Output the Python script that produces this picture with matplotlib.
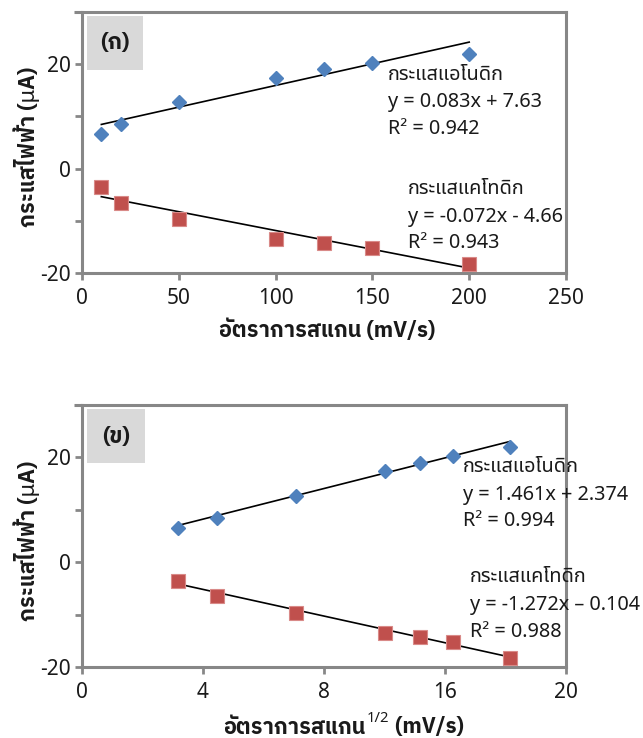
import os
import matplotlib
matplotlib.use("Agg")
import matplotlib.pyplot as plt
from matplotlib import font_manager as fm
import numpy as np

# ---------------- data ----------------
scan_rate = [10, 20, 50, 100, 125, 150, 200]              # mV/s
sqrt_scan_rate = [3.16, 4.47, 7.07, 10.0, 11.18, 12.25, 14.14]
anodic_current = [6.6, 8.5, 12.7, 17.4, 19.0, 20.2, 22.0]   # uA
cathodic_current = [-3.5, -6.5, -9.7, -13.5, -14.2, -15.2, -18.3]

fit_a_top = (0.083, 7.63)
fit_c_top = (-0.072, -4.66)
fit_a_bot = (1.461, 2.374)
fit_c_bot = (-1.272, -0.104)

eq_a_top = ["กระแสแอโนดิก", "y = 0.083x + 7.63", "R² = 0.942"]
eq_c_top = ["กระแสแคโทดิก", "y = -0.072x - 4.66", "R² = 0.943"]
eq_a_bot = ["กระแสแอโนดิก", "y = 1.461x + 2.374", "R² = 0.994"]
eq_c_bot = ["กระแสแคโทดิก", "y = -1.272x – 0.104", "R² = 0.988"]

top_xticks = [0, 50, 100, 150, 200, 250]
top_xlabels = ["0", "50", "100", "150", "200", "250"]
bot_xticks = [0, 4, 8, 12, 16]
bot_xlabels = ["0", "4", "8", "16", "20"]
yticks = [-20, -10, 0, 10, 20, 30]
ylabels = ["-20", "", "0", "", "20", ""]

ylabel_text = "กระแสไฟฟ้า (μA)"
xlabel_main = "อัตราการสแกน"
xlabel_unit = " (mV/s)"
panel_labels = ["(ก)", "(ข)"]

# ---------------- fonts ----------------
def font_ok(fam, weight):
    try:
        p = fm.findfont(fm.FontProperties(family=fam, weight=weight), fallback_to_default=False)
    except Exception:
        return False
    if weight == 'bold' and 'bold' not in os.path.basename(p).lower():
        return False
    try:
        return 0x0E01 in fm.get_font(p).get_charmap()
    except Exception:
        return False

REG = next((f for f in ["Noto Sans Thai", "Noto Sans Thai UI", "IBM Plex Sans Thai"]
            if font_ok(f, 'normal')), "Noto Sans Thai")
BOLD = next((f for f in ["Noto Sans Thai", "Noto Sans Thai UI", "IBM Plex Sans Thai", "Kanit", "Prompt"]
             if font_ok(f, 'bold')), REG)
FONT = [REG, "Noto Sans", "DejaVu Sans"]
BFONT = [BOLD, "Noto Sans", "DejaVu Sans"]
plt.rcParams['font.family'] = FONT

W, H = 643, 738
BLUE = "#4F81BD"
RED = "#C0504D"
GRAY = "#878787"
TXT = "#1a1a1a"

fig = plt.figure(figsize=(W / 100, H / 100), dpi=100)
fig.canvas.draw()
R = fig.canvas.get_renderer()

def fx(px):
    return px / W

def fy(py):
    return 1 - py / H

def fit_width(t, target, vertical=False):
    bb = t.get_window_extent(R)
    cur = bb.height if vertical else bb.width
    t.set_fontsize(t.get_fontsize() * target / cur)
    return t.get_fontsize()

def make_axes(top, bottom):
    ax = fig.add_axes([fx(82), fy(bottom), fx(566) - fx(82), fy(top) - fy(bottom)])
    for s in ax.spines.values():
        s.set_color(GRAY)
        s.set_linewidth(2.2)
    ax.tick_params(direction='out', length=5, width=2, color=GRAY,
                   labelsize=15, pad=3, labelcolor=TXT)
    ax.tick_params(axis='x', pad=6)
    ax.set_ylim(-20, 30)
    ax.set_yticks(yticks)
    ax.set_yticklabels(ylabels)
    ax.plot([-0.016, 0], [1, 1], transform=ax.transAxes, color=GRAY,
            lw=2.2, clip_on=False, solid_capstyle='butt')
    return ax

# equation font size fitted to the source width of one equation line
probe = fig.text(0, 0, eq_a_top[1], fontsize=14)
EQ_FS = fit_width(probe, 154)
probe.remove()

def draw(ax, xs, fa, fc, eqa, eqc, eqa_pos, eqc_pos):
    xs = np.asarray(xs)
    x0, x1 = xs.min(), xs.max()
    ax.plot([x0, x1], [fa[0] * x0 + fa[1], fa[0] * x1 + fa[1]], color='black', lw=1.2, zorder=2)
    ax.plot([x0, x1], [fc[0] * x0 + fc[1], fc[0] * x1 + fc[1]], color='black', lw=1.2, zorder=2)
    ax.plot(xs, anodic_current, linestyle='none', marker='D', ms=6.8,
            color=BLUE, mec=BLUE, zorder=3)
    ax.plot(xs, cathodic_current, linestyle='none', marker='s', ms=10,
            color=RED, mec="#d98a88", mew=0.8, zorder=3)
    for lines, (px, pys) in ((eqa, eqa_pos), (eqc, eqc_pos)):
        for t, py in zip(lines, pys):
            fig.text(fx(px), fy(py), t, fontsize=EQ_FS, va='center', ha='left', color=TXT)

# top panel
ax1 = make_axes(12, 273)
ax1.set_xlim(0, 250)
ax1.set_xticks(top_xticks)
ax1.set_xticklabels(top_xlabels)
draw(ax1, scan_rate, fit_a_top, fit_c_top, eq_a_top, eq_c_top,
     (388, (75, 102, 129)), (408, (189, 217, 243)))

# bottom panel
ax2 = make_axes(405, 667)
ax2.set_xlim(0, 16)
ax2.set_xticks(bot_xticks)
ax2.set_xticklabels(bot_xlabels)
draw(ax2, sqrt_scan_rate, fit_a_bot, fit_c_bot, eq_a_bot, eq_c_bot,
     (463, (467, 495, 521)), (470, (577, 605, 632)))

# panel label boxes
for (x0, y0, x1, y1), lab in zip([(87, 16, 143, 70), (87, 409, 145, 463)], panel_labels):
    fig.patches.append(plt.Rectangle((fx(x0), fy(y1)), fx(x1) - fx(x0), fy(y0) - fy(y1),
                                     transform=fig.transFigure, facecolor="#D9D9D9",
                                     edgecolor='none', zorder=5))
    fig.text(fx((x0 + x1) / 2), fy((y0 + y1) / 2), lab, fontsize=16, fontweight='bold',
             family=BFONT, ha='center', va='center', zorder=6, color=TXT)

# x label (top)
xl = fig.text(fx(327), fy(330), xlabel_main + xlabel_unit, fontsize=15, fontweight='bold',
              family=BFONT, ha='center', va='center', color=TXT)
LAB_FS = fit_width(xl, 217)

# y labels
for cy in (147, 541):
    fig.text(fx(27), fy(cy), ylabel_text, rotation=90, fontsize=LAB_FS, fontweight='bold',
             family=BFONT, ha='center', va='center', color=TXT)

# bottom x label with superscript, assembled from pieces
t1 = fig.text(0, fy(727), xlabel_main, fontsize=LAB_FS, fontweight='bold', family=BFONT,
              va='center', color=TXT)
t2 = fig.text(0, fy(719), "1/2", fontsize=LAB_FS * 0.68, fontweight='normal', family=FONT,
              va='center', color=TXT)
t3 = fig.text(0, fy(727), xlabel_unit, fontsize=LAB_FS, fontweight='bold', family=BFONT,
              va='center', color=TXT)
w1 = t1.get_window_extent(R).width
w2 = t2.get_window_extent(R).width
w3 = t3.get_window_extent(R).width
start = 343 - (w1 + w2 + w3) / 2
t1.set_x(fx(start))
t2.set_x(fx(start + w1 + 1))
t3.set_x(fx(start + w1 + w2 + 1))

fig.savefig("out.png", dpi=100)
